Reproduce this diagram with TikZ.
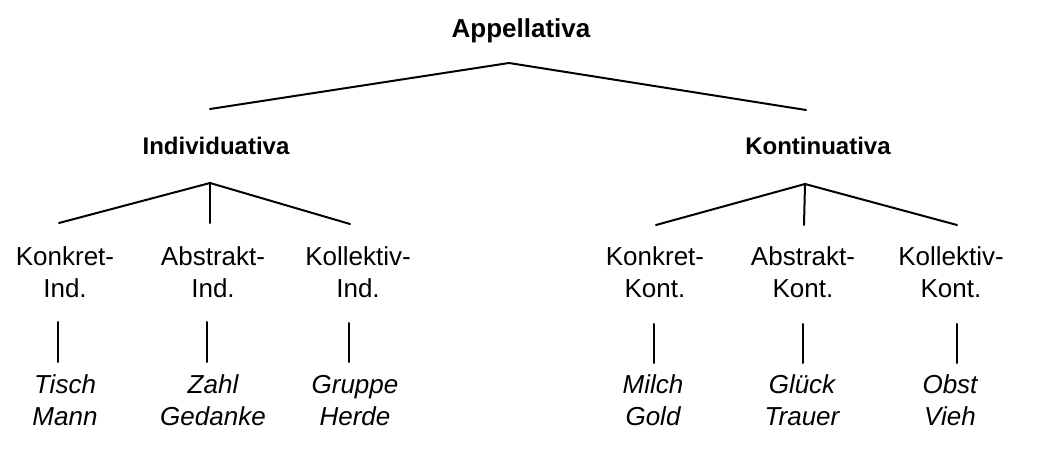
\documentclass[tikz,border=0pt]{standalone}
\usepackage{fontspec}
\setmainfont{Liberation Sans}
\newcommand\twoline[2]{\begin{tabular}[b]{@{}c@{}}#1\\#2\end{tabular}}
\begin{document}
\begin{tikzpicture}[x=1pt,y=-1pt,
  lbl/.style={inner sep=0pt, anchor=base, font=\fontsize{26}{32}\selectfont},
  head/.style={inner sep=0pt, anchor=base, font=\bfseries\fontsize{24}{29}\selectfont},
  ex/.style={inner sep=0pt, anchor=base, font=\itshape\fontsize{26}{32}\selectfont},
  edge/.style={line width=2pt, line cap=round, line join=round}]
\useasboundingbox (0,0) rectangle (1041,454);

% headings
\node[head, font=\bfseries\fontsize{26}{31}\selectfont] (app) at (521,38) {Appellativa};
\node[head] (ind) at (216,155) {Individuativa};
\node[head] (kon) at (818,155) {Kontinuativa};

% subtypes
\node[lbl] (ki)  at (65,298)  {\twoline{Konkret-}{Ind.}};
\node[lbl] (ai)  at (213,298) {\twoline{Abstrakt-}{Ind.}};
\node[lbl] (kli) at (358,298) {\twoline{Kollektiv-}{Ind.}};
\node[lbl] (kk)  at (655,298) {\twoline{Konkret-}{Kont.}};
\node[lbl] (ak)  at (803,298) {\twoline{Abstrakt-}{Kont.}};
\node[lbl] (klk) at (951,298) {\twoline{Kollektiv-}{Kont.}};

% examples
\node[ex] (e1) at (65,425)  {\twoline{Tisch}{Mann}};
\node[ex] (e2) at (213,425) {\twoline{Zahl}{Gedanke}};
\node[ex] (e3) at (355,425) {\twoline{Gruppe}{Herde}};
\node[ex] (e4) at (653,425) {\twoline{Milch}{Gold}};
\node[ex] (e5) at (802,425) {\twoline{Glück}{Trauer}};
\node[ex] (e6) at (950,425) {\twoline{Obst}{Vieh}};

% branching points
\coordinate (appA) at (509,63);
\coordinate (appL) at (210,109);
\coordinate (appR) at (806,110);
\coordinate (indA) at (210,183);
\coordinate (indL) at (59,223);
\coordinate (indM) at (210,223);
\coordinate (indR) at (350,224);
\coordinate (konA) at (805,184);
\coordinate (konL) at (656,225);
\coordinate (konM) at (804,225);
\coordinate (konR) at (957,225);

\draw[edge] (appL) -- (appA) -- (appR);
\draw[edge] (indL) -- (indA) -- (indR);
\draw[edge] (indA) -- (indM);
\draw[edge] (konL) -- (konA) -- (konR);
\draw[edge] (konA) -- (konM);

% connectors to examples
\coordinate (v1t) at (58,322);  \coordinate (v1b) at (58,362);
\coordinate (v2t) at (207,322); \coordinate (v2b) at (207,362);
\coordinate (v3t) at (349,323); \coordinate (v3b) at (349,362);
\coordinate (v4t) at (654,324); \coordinate (v4b) at (654,363);
\coordinate (v5t) at (803,324); \coordinate (v5b) at (803,363);
\coordinate (v6t) at (957,324); \coordinate (v6b) at (957,363);
\foreach \i in {1,...,6} {\draw[edge] (v\i t) -- (v\i b);}
\end{tikzpicture}
\end{document}
